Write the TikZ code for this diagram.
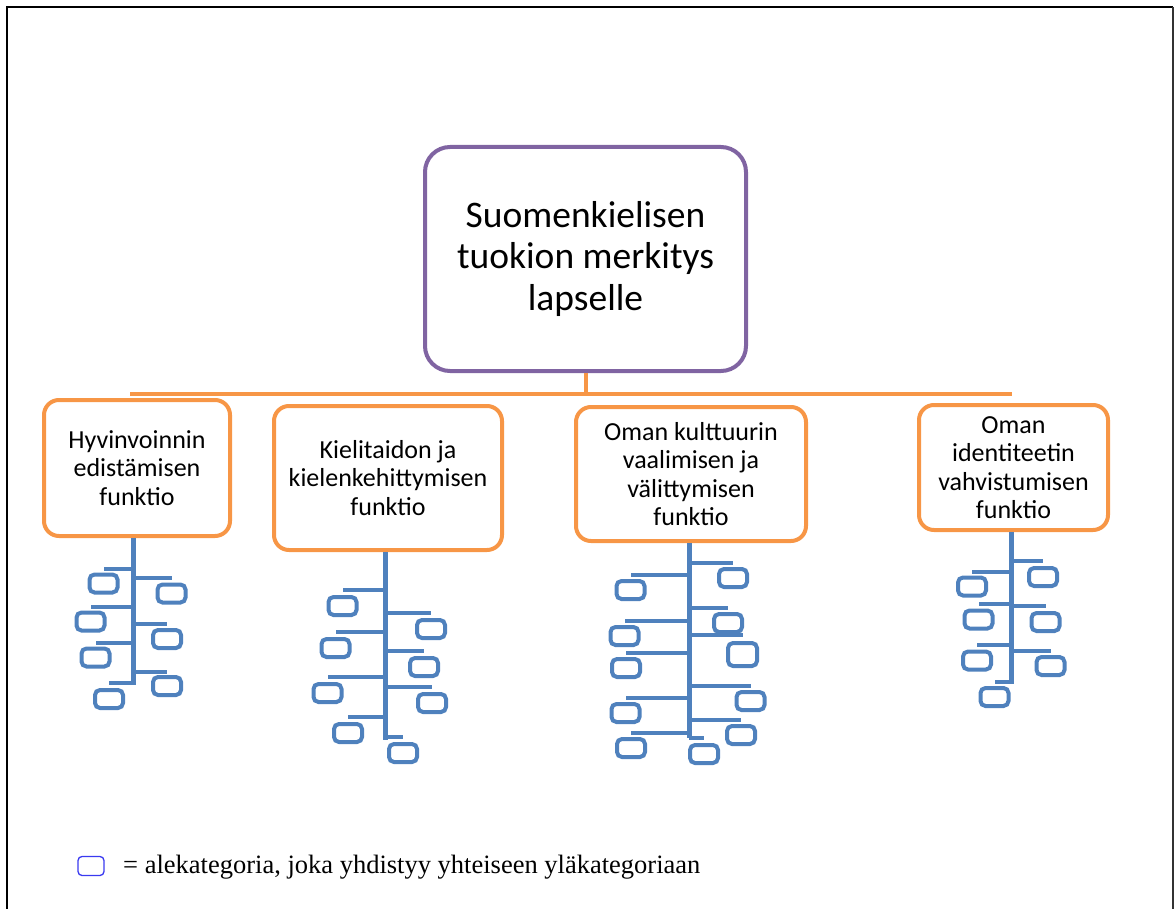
\documentclass[tikz,border=0pt]{standalone}
\usepackage{fontspec}
\setmainfont{Carlito}
\newfontfamily\legendfont{Liberation Serif}
\definecolor{obl}{HTML}{4F81BD}
\definecolor{oor}{HTML}{F79646}
\definecolor{opu}{HTML}{8064A2}
\definecolor{lgb}{HTML}{3A3AF0}
\tikzset{
  mainbox/.style={draw=opu,line width=4pt,rounded corners=25pt,align=center,inner sep=0pt,
    font=\fontsize{37.5}{41.5}\selectfont},
  funcbox/.style={draw=oor,line width=4pt,rounded corners=15pt,align=center,inner sep=0pt,
    font=\fontsize{26}{28.5}\selectfont},
  leafbox/.style={draw=obl,line width=4pt,rounded corners=5pt,minimum width=28pt,minimum height=18pt,inner sep=0pt},
  bigleaf/.style={leafbox,minimum width=29pt,minimum height=23pt},
  conn/.style={draw=oor,line width=4pt},
  trunk/.style={draw=obl,line width=5pt},
  twig/.style={draw=obl,line width=3.5pt},
}
\newcommand\leaf[6][leafbox]{%
  \node[#1] (#2) at (#5,#6) {};
  \coordinate (#2t) at (#3,#4);
  \draw[twig] (#2t) -- (#2t -| #2.north);}
\begin{document}
\begin{tikzpicture}[x=1pt,y=-1pt]
\useasboundingbox (0,0) rectangle (1175,909);
% frame
\draw[line width=2.5pt] (7,909) -- (7,7) -- (1173,7);
\draw[line width=1.5pt,black!80] (1173,7) -- (1173,909);

% main box
\node[mainbox,minimum width=321pt,minimum height=224pt] (main) at (585.5,259)
  {Suomenkielisen\\tuokion merkitys\\lapselle};

% orange connector
\coordinate (hl) at (130,394);
\coordinate (hr) at (1012,394);
\draw[conn] (main.south) -- (main.south |- hl);
\draw[conn] (hl) -- (hr);

% function boxes
\node[funcbox,minimum width=186pt,minimum height=136pt] (f1) at (137,468)
  {Hyvinvoinnin\\edistämisen\\funktio};
\node[funcbox,minimum width=228pt,minimum height=144pt] (f2) at (388,478)
  {Kielitaidon ja\\kielenkehittymisen\\funktio};
\node[funcbox,minimum width=230pt,minimum height=134pt] (f3) at (691,474)
  {Oman kulttuurin\\vaalimisen ja\\välittymisen\\funktio};
\node[funcbox,minimum width=189pt,minimum height=125pt] (f4) at (1013.5,467.5)
  {Oman\\identiteetin\\vahvistumisen\\funktio};

% tree 1
\coordinate (e1) at (133,685);
\draw[trunk] (e1 |- f1.south) -- (e1);
\leaf{a1}{133}{569}{103.5}{583.5}
\leaf{a2}{133}{578}{171.5}{593.5}
\leaf{a3}{133}{607}{90.5}{621.5}
\leaf{a4}{133}{624}{167}{639}
\leaf{a5}{133}{643}{95.5}{657.5}
\leaf{a6}{133}{672}{167}{686}
\leaf{a7}{133}{683}{109}{699}

% tree 2
\coordinate (e2) at (385,740);
\draw[trunk] (e2 |- f2.south) -- (e2);
\leaf{b1}{385}{590}{342.5}{606}
\leaf{b2}{385}{613}{431}{629}
\leaf{b3}{385}{632}{335.5}{648}
\leaf{b4}{385}{651}{424}{667}
\leaf{b5}{385}{677}{327.5}{693}
\leaf{b6}{385}{687}{432}{703}
\leaf{b7}{385}{717}{348}{733}
\leaf{b8}{385}{737}{403}{753}

% tree 3
\coordinate (e3) at (689,738);
\draw[trunk] (e3 |- f3.south) -- (e3);
\leaf{c1}{689}{563}{733}{578}
\leaf{c2}{689}{575}{630.5}{590}
\leaf{c3}{689}{608}{728}{623}
\leaf{c4}{689}{621}{624.5}{636}
\leaf[bigleaf]{c5}{689}{635}{742.5}{654.5}
\leaf{c6}{689}{653}{626}{668}
\leaf{c7}{689}{686}{750.5}{701}
\leaf{c8}{689}{698}{625.5}{713}
\leaf{c9}{689}{720}{741}{735}
\leaf{c10}{689}{733}{631}{748}
\leaf{c11}{689}{738}{704}{754}

% tree 4
\coordinate (e4) at (1011,684);
\draw[trunk] (e4 |- f4.south) -- (e4);
\leaf{d1}{1011}{561}{1043}{577}
\leaf{d2}{1011}{572}{972}{586.5}
\leaf{d3}{1011}{604}{978.5}{619.5}
\leaf{d4}{1011}{606}{1045.5}{622}
\leaf{d5}{1011}{645}{977}{660.5}
\leaf{d6}{1011}{651}{1050.5}{666}
\leaf{d7}{1011}{682}{994.5}{697}

% legend
\node[draw=lgb,line width=1.3pt,rounded corners=4pt,minimum width=26pt,minimum height=19pt,inner sep=0pt] (lg) at (91,866) {};
\node[anchor=west,inner sep=0pt,font=\legendfont\fontsize{26.5}{30}\selectfont] (lt) at (123,867)
  {= alekategoria, joka yhdistyy yhteiseen yläkategoriaan};
\end{tikzpicture}
\end{document}
